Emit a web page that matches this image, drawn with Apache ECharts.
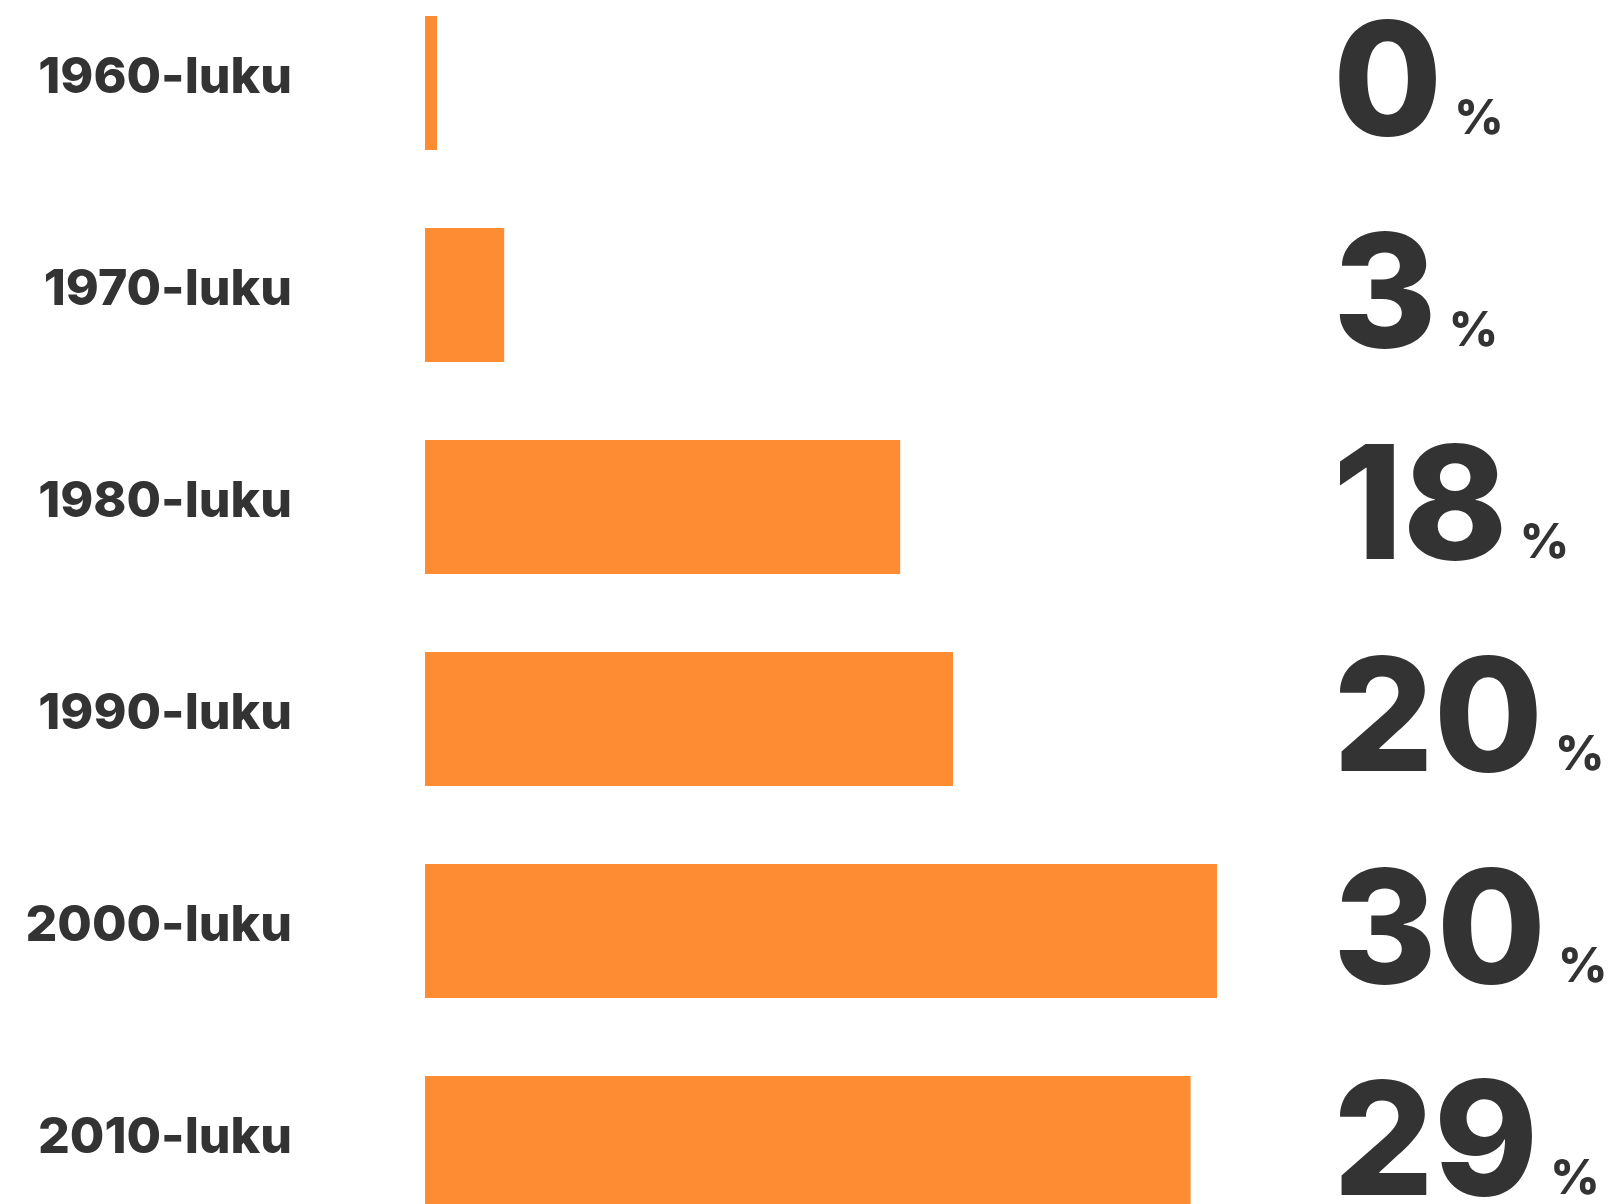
<!DOCTYPE html>
<html>
<head>
<meta charset="utf-8">
<script src="https://cdn.jsdelivr.net/npm/echarts@6/dist/echarts.min.js"></script>
<style>
  html, body { margin: 0; padding: 0; background: #ffffff; }
  #chart { width: 1613px; height: 1204px; }
</style>
</head>
<body>
<div id="chart"></div>
<script>
// Decades and share (%) per decade
const decades = ['1960-luku', '1970-luku', '1980-luku', '1990-luku', '2000-luku', '2010-luku'];
const shares = [0, 3, 18, 20, 30, 29];
const axisMax = 30;

const textColor = '#333333';
const barColor = '#FE8C32';
const fontFamily = 'Inter, "Open Sans", sans-serif';

const chart = echarts.init(document.getElementById('chart'));
chart.setOption({
  backgroundColor: '#ffffff',
  animation: false,
  grid: {
    left: 425, width: 792, top: -23, height: 1272,
    containLabel: false, outerBoundsMode: 'none'
  },
  xAxis: {
    type: 'value', min: 0, max: axisMax,
    show: false
  },
  yAxis: [
    {
      type: 'category', data: decades, inverse: true,
      position: 'left',
      axisLine: { show: false }, axisTick: { show: false }, splitLine: { show: false },
      axisLabel: {
        margin: 133,
        formatter: function (value) {
          return '{dec|' + value + '}';
        },
        rich: {
          dec: {
            color: textColor, fontFamily: fontFamily, fontWeight: 800,
            fontSize: 50, lineHeight: 50,
            padding: [0, 0, 10, 0]
          }
        }
      }
    },
    {
      type: 'category', data: decades, inverse: true,
      position: 'right',
      axisLine: { show: false }, axisTick: { show: false }, splitLine: { show: false },
      axisLabel: {
        margin: 116,
        padding: [8, 0, 0, 0],
        formatter: function (value, index) {
          return '{num|' + shares[index] + '}{pct|%}';
        },
        rich: {
          num: {
            color: textColor, fontFamily: fontFamily, fontWeight: 800,
            fontSize: 158, lineHeight: 158
          },
          pct: {
            color: textColor, fontFamily: fontFamily, fontWeight: 800,
            fontSize: 48, lineHeight: 48, verticalAlign: 'bottom',
            padding: [0, 0, 22, 12]
          }
        }
      }
    }
  ],
  series: [
    {
      type: 'bar',
      data: shares,
      yAxisIndex: 0,
      barWidth: 134,
      barMinHeight: 12,
      itemStyle: { color: barColor },
      silent: true
    }
  ]
});
</script>
</body>
</html>
